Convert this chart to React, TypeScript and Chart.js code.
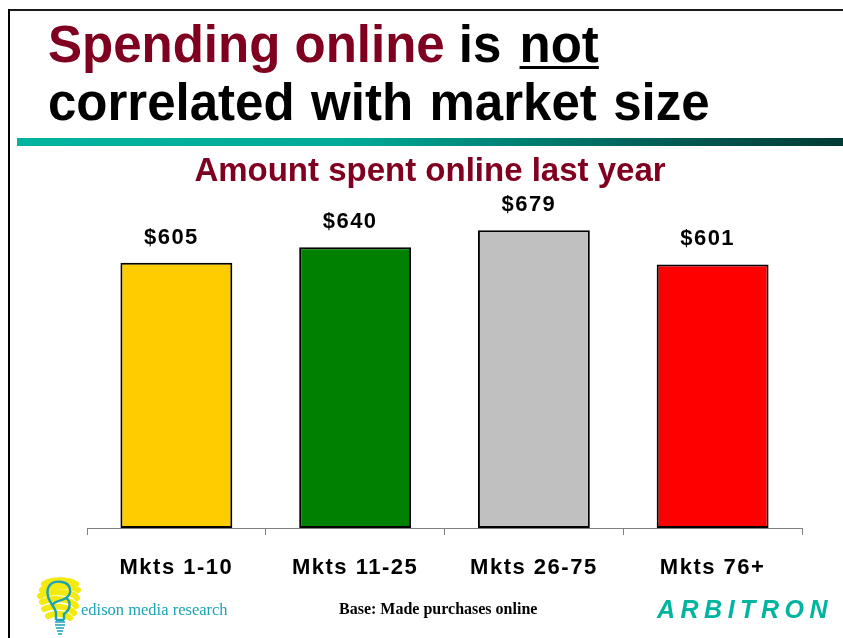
import React, { useEffect, useRef } from "react";
import { Chart, registerables } from "chart.js";

Chart.register(...registerables);

const categories = ["Mkts 1-10", "Mkts 11-25", "Mkts 26-75", "Mkts 76+"];
const spending = [605, 640, 679, 601];
const barColors = ["#FFCC00", "#008000", "#C0C0C0", "#FF0000"];

const SANS = '"Liberation Sans", Arial, Helvetica, sans-serif';
const SERIF = '"Liberation Serif", "Times New Roman", serif';
const DARK_RED = "#800020";

// Value labels above bars; afterwards enable letter spacing for the
// tick labels, which are drawn in a layer after the datasets (ticks.z = 1).
const valueLabelPlugin = {
  id: "valueLabels",
  beforeDraw(chart: any) {
    (chart.ctx as any).letterSpacing = "0px";
  },
  afterDatasetsDraw(chart: any) {
    const ctx = chart.ctx;
    const meta = chart.getDatasetMeta(0);
    ctx.save();
    ctx.font = `bold 22px ${SANS}`;
    (ctx as any).letterSpacing = "1.5px";
    ctx.fillStyle = "#000";
    ctx.textAlign = "center";
    ctx.textBaseline = "middle";
    meta.data.forEach((bar: any, i: number) => {
      ctx.fillText("$" + spending[i], bar.x - 5, bar.y - 25);
    });
    ctx.restore();
    (ctx as any).letterSpacing = "1.5px";
  },
  afterDraw(chart: any) {
    (chart.ctx as any).letterSpacing = "0px";
  },
};

function BulbLogo() {
  return (
    <svg
      width={46}
      height={62}
      viewBox="0 0 46 62"
      style={{ position: "absolute", left: 36, top: 576 }}
    >
      <path
        d="M8 8 C18 2 34 4 40 8 M6 14 C18 8 36 10 42 14 M4 20 C16 14 38 16 41 22 M6 26 C18 20 36 24 40 30 M8 33 C18 28 34 31 38 37 M12 40 C20 36 30 38 34 42"
        stroke="#F5EA10"
        strokeWidth={6}
        fill="none"
        strokeLinecap="round"
      />
      <path
        d="M26 6 C14 4 10 12 12 20 C13 26 18 30 20 36 L20 44 M26 6 C36 8 36 18 30 22 C24 26 18 24 16 30 M30 22 C36 26 34 34 28 38 L28 44 M20 44 L28 44"
        stroke="#1BA3B5"
        strokeWidth={2.4}
        fill="none"
      />
      <path
        d="M19 46 L29 46 M19 49 L29 49 M20 52 L28 52 M21 55 L27 55 M22 58 L26 58"
        stroke="#1BA3B5"
        strokeWidth={1.6}
        fill="none"
      />
    </svg>
  );
}

export default function App() {
  const canvasRef = useRef<HTMLCanvasElement | null>(null);

  useEffect(() => {
    if (!canvasRef.current) return;
    const chart = new Chart(canvasRef.current, {
      type: "bar",
      data: {
        labels: categories,
        datasets: [
          {
            data: spending,
            backgroundColor: barColors,
            borderColor: "#000",
            borderWidth: 2,
            borderSkipped: false,
            barPercentage: 0.626,
            categoryPercentage: 1.0,
          },
        ],
      },
      options: {
        responsive: false,
        animation: false,
        devicePixelRatio: 1,
        layout: { padding: { left: 58, right: 41, top: 147, bottom: 50 } },
        plugins: {
          legend: { display: false },
          tooltip: { enabled: false },
          title: {
            display: true,
            text: "Amount spent online last year",
            color: DARK_RED,
            font: { family: SANS, size: 33, weight: "bold", lineHeight: 1.2 },
            padding: { top: 5, bottom: 29.4 },
          },
        },
        scales: {
          x: {
            grid: {
              display: true,
              drawOnChartArea: false,
              drawTicks: true,
              tickLength: 7,
              color: "#808080",
              lineWidth: 1,
              offset: true,
            },
            border: { display: true, color: "#808080", width: 1 },
            ticks: {
              z: 1,
              color: "#000",
              font: { family: SANS, size: 22, weight: "bold" },
              padding: 20,
              maxRotation: 0,
              autoSkip: false,
            },
            afterFit: (scale: any) => {
              scale.height = 60;
            },
          },
          y: {
            display: true,
            min: 0,
            max: 700,
            grid: { display: false },
            border: { display: false },
            ticks: { display: false },
            afterFit: (scale: any) => {
              scale.width = 29;
            },
          },
        },
      } as any,
      plugins: [valueLabelPlugin],
    });
    return () => chart.destroy();
  }, []);

  return (
    <div
      style={{
        position: "absolute",
        left: 0,
        top: 0,
        width: 843,
        height: 638,
        overflow: "hidden",
        background: "#fff",
      }}
    >
      <canvas
        ref={canvasRef}
        width={843}
        height={638}
        style={{ position: "absolute", left: 0, top: 0, width: 843, height: 638 }}
      />
      {/* frame */}
      <div style={{ position: "absolute", left: 8, top: 9, width: 835, height: 2, background: "#1a1a1a" }} />
      <div style={{ position: "absolute", left: 8, top: 9, width: 2, height: 629, background: "#000" }} />
      {/* headline */}
      <div
        style={{
          position: "absolute",
          left: 48,
          top: 16,
          fontFamily: SANS,
          fontWeight: "bold",
          fontSize: 51,
          lineHeight: "58px",
          color: "#000",
          whiteSpace: "nowrap",
        }}
      >
        <div>
          <span style={{ color: DARK_RED }}>Spending online</span> is{" "}
          <span
            style={{
              marginLeft: 4,
              textDecoration: "underline",
              textDecorationThickness: 3,
              textUnderlineOffset: 4,
            }}
          >
            not
          </span>
        </div>
        <div style={{ wordSpacing: 2.3 }}>correlated with market size</div>
      </div>
      {/* teal rule */}
      <div
        style={{
          position: "absolute",
          left: 17,
          top: 138,
          width: 826,
          height: 8,
          background: "linear-gradient(to right, #00B4A0 0%, #00AA98 40%, #00635A 75%, #003A35 100%)",
        }}
      />
      {/* footer */}
      <BulbLogo />
      <div
        style={{
          position: "absolute",
          left: 81,
          top: 600,
          fontFamily: SERIF,
          fontSize: 16.5,
          color: "#1BA3B5",
          whiteSpace: "nowrap",
        }}
      >
        edison media research
      </div>
      <div
        style={{
          position: "absolute",
          left: 339,
          top: 600,
          fontFamily: SERIF,
          fontWeight: "bold",
          fontSize: 16,
          color: "#000",
          whiteSpace: "nowrap",
        }}
      >
        Base: Made purchases online
      </div>
      <div
        style={{
          position: "absolute",
          left: 657,
          top: 595,
          fontFamily: SANS,
          fontWeight: "bold",
          fontStyle: "italic",
          fontSize: 25,
          letterSpacing: 5.5,
          color: "#00B5A0",
          whiteSpace: "nowrap",
        }}
      >
        ARBITRON
      </div>
    </div>
  );
}
